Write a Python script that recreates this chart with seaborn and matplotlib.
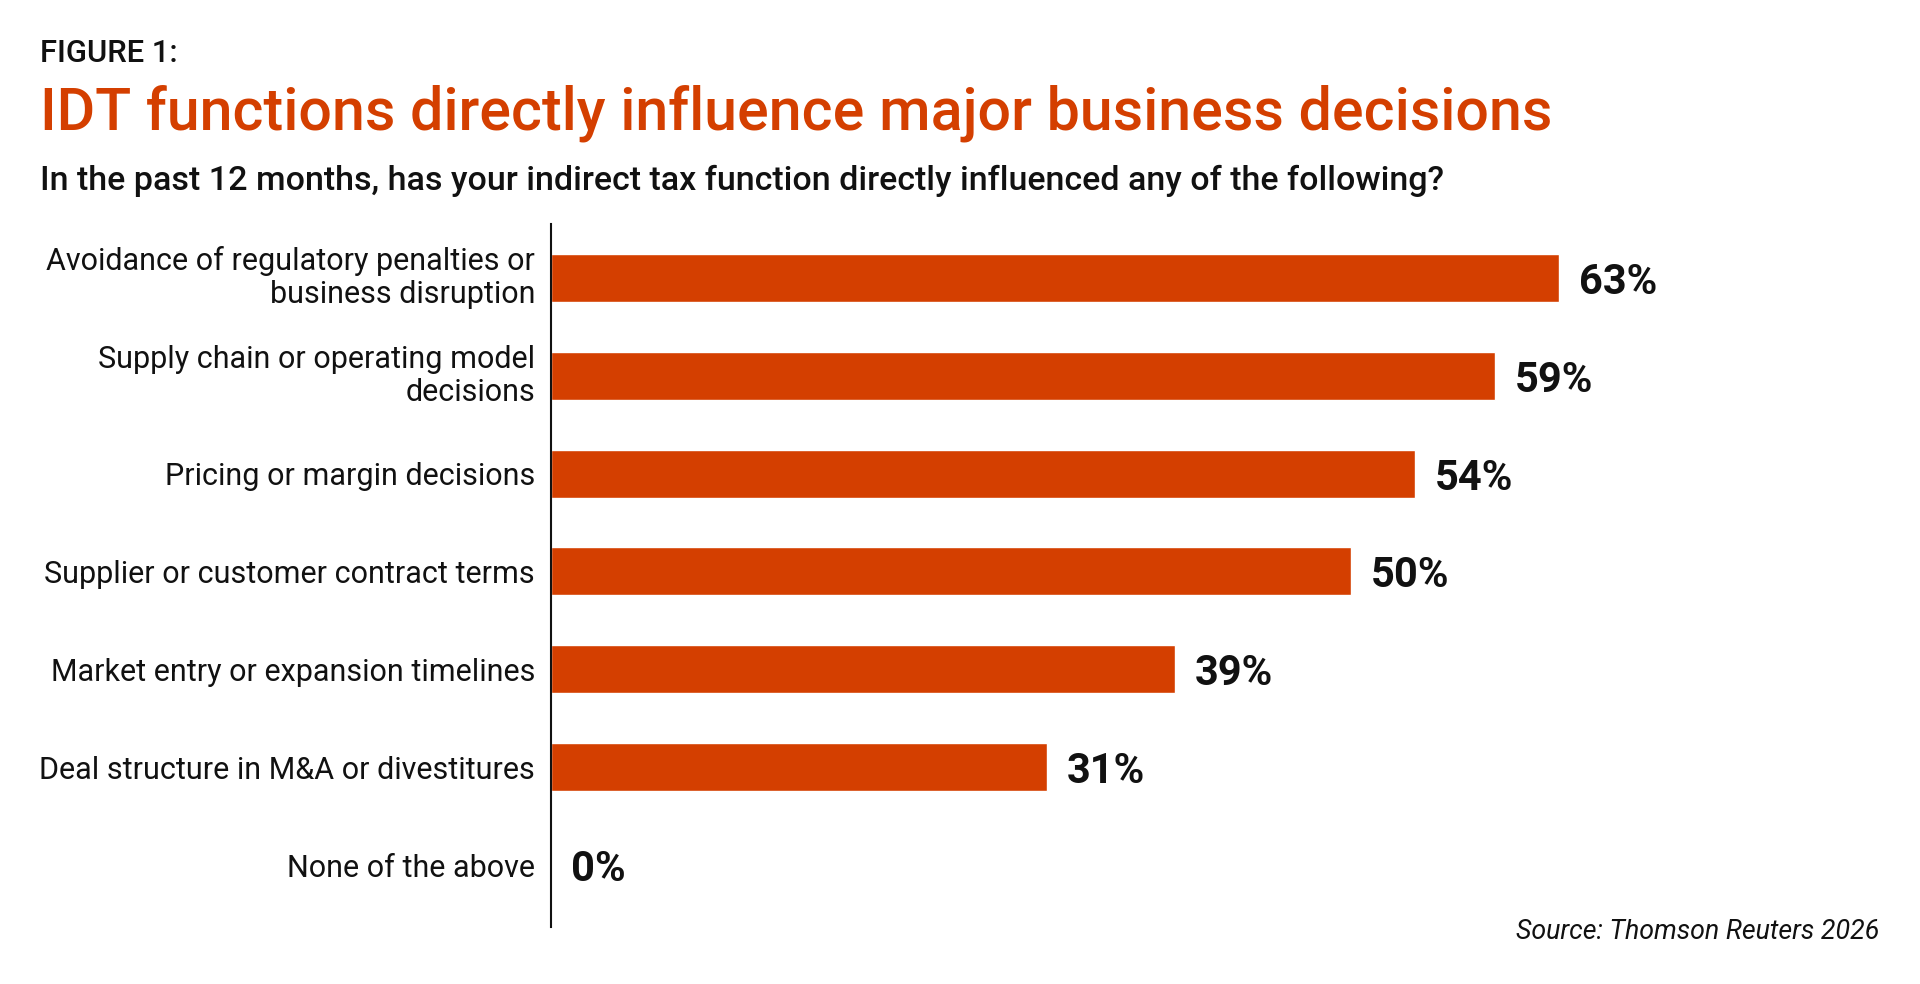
import matplotlib
matplotlib.use('Agg')
import matplotlib.pyplot as plt
import seaborn as sns

# Survey results (share of respondents)
categories = [
    'Avoidance of regulatory penalties or\nbusiness disruption',
    'Supply chain or operating model\ndecisions',
    'Pricing or margin decisions',
    'Supplier or customer contract terms',
    'Market entry or expansion timelines',
    'Deal structure in M&A or divestitures',
    'None of the above',
]
values = [63, 59, 54, 50, 39, 31, 0]
value_labels = [f'{v}%' for v in values]

orange = '#D43F00'
ink = '#111111'

sns.set_theme(style='white')
plt.rcParams['font.family'] = ['Roboto', 'DejaVu Sans']

fig = plt.figure(figsize=(19.2, 9.84), dpi=100)
ax = fig.add_axes([0.287, 0.058, 0.7026, 0.7145])

sns.barplot(x=values, y=categories, orient='h', color=orange, width=0.49,
            saturation=1, ax=ax)

ax.set_xlim(0, 84.3)
ax.set_ylim(6.63, -0.55)

for i, (v, lab) in enumerate(zip(values, value_labels)):
    ax.text(v + 1.25, i, lab, va='center_baseline', ha='left', fontsize=30,
            fontweight='bold', color=ink)

sns.despine(ax=ax, top=True, right=True, bottom=True, left=False)
ax.spines['left'].set_color(ink)
ax.spines['left'].set_linewidth(1.5)
ax.set_xticks([])
ax.set_xlabel('')
ax.set_ylabel('')
ax.tick_params(axis='y', length=0, pad=11.5, labelsize=22, labelcolor=ink)
for t in ax.get_yticklabels():
    t.set_linespacing(1.18)
    if '\n' in t.get_text():
        t.set_va('center')

fig.text(0.0208, 0.937, 'FIGURE 1:', fontsize=22.3, fontweight='medium',
         color=ink, va='baseline')
fig.text(0.0208, 0.8689, 'IDT functions directly influence major business decisions',
         fontsize=42.6, fontweight='medium', color=orange, va='baseline')
fig.text(0.0208, 0.8069,
         'In the past 12 months, has your indirect tax function directly influenced any of the following?',
         fontsize=24.5, fontweight='medium', color=ink, va='baseline')
fig.text(0.979, 0.0457, 'Source: Thomson Reuters 2026', fontsize=19.3,
         style='italic', color=ink, ha='right', va='baseline')

fig.savefig('out.png', dpi=100, facecolor='white')
